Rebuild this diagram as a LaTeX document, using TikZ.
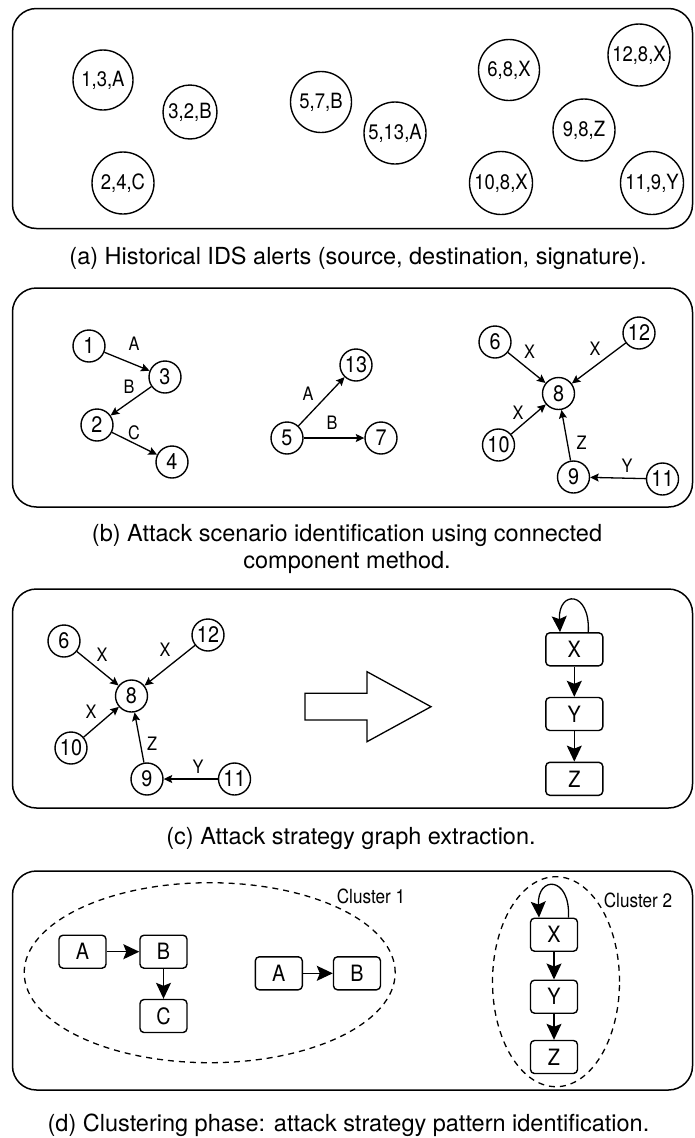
\documentclass[tikz,border=0pt]{standalone}
\usepackage{fontspec}
\setmainfont{TeX Gyre Heros}
\newfontfamily\narrowfont[FakeStretch=0.88]{TeX Gyre Heros}
\usetikzlibrary{arrows.meta,shapes.geometric}

\begin{document}
\begin{tikzpicture}[x=1pt,y=-1pt,
  panel/.style={draw, line width=1.5pt, rounded corners=24pt},
  caption/.style={font=\fontsize{23.5}{27}\selectfont, align=center, inner sep=0pt},
  alert/.style={draw, circle, line width=1.4pt, inner sep=0pt, minimum size=#1,
                font=\narrowfont\fontsize{21}{22}\selectfont},
  alert/.default=61pt,
  host/.style={draw, circle, line width=1.4pt, inner sep=0pt, minimum size=32pt,
               font=\narrowfont\fontsize{22.5}{23}\selectfont},
  edge/.style={line width=1.3pt, -{Stealth[length=8.5pt,width=8pt,inset=1.5pt]}},
  elabel/.style={font=\narrowfont\fontsize{18.5}{19}\selectfont, inner sep=0pt},
  sigbox/.style={draw, rounded corners=4pt, line width=1.4pt, minimum height=33pt,
                 minimum width=#1, inner sep=0pt, font=\narrowfont\fontsize{22.5}{23}\selectfont},
  sigbox/.default=47pt,
  flow/.style={line width=1.3pt, -{Stealth[length=16pt,width=15pt,inset=3pt]}},
  cluster/.style={draw, ellipse, line width=1.3pt, dash pattern=on 6pt off 5pt, inner sep=0pt},
  clabel/.style={font=\narrowfont\fontsize{19.5}{20}\selectfont, inner sep=0pt},
  bigarrow/.style={draw, line width=1.3pt, fill=white}
]
\useasboundingbox (0,0) rectangle (694,1138);

% ---------- (a) raw alerts ----------
\draw[panel] (12.5,8.5) rectangle (692.5,228.5);
\node[alert=60pt] (a1)  at (103,80)    {1,3,A};
\node[alert=54pt] (a2)  at (190,112)   {3,2,B};
\node[alert=62pt] (a3)  at (123,183)   {2,4,C};
\node[alert]      (a4)  at (321,102)   {5,7,B};
\node[alert=62pt] (a5)  at (395,133)   {5,13,A};
\node[alert]      (a6)  at (509,70)    {6,8,X};
\node[alert=62pt] (a7)  at (639,55)    {12,8,X};
\node[alert=62pt] (a8)  at (584,130)   {9,8,Z};
\node[alert=63pt] (a9)  at (501,183)   {10,8,X};
\node[alert=63pt] (a10) at (652,183)   {11,9,Y};
\node[caption] (capa) at (358,258) {(a) Historical IDS alerts (source, destination, signature).};

% ---------- (b) connected components ----------
\draw[panel] (12.5,288) rectangle (692.5,507);
\node[host] (b1)  at (89,346)    {1};
\node[host] (b3)  at (165,377)   {3};
\node[host] (b2)  at (97,425)    {2};
\node[host] (b4)  at (172,462)   {4};
\node[host] (b5)  at (287,438)   {5};
\node[host] (b13) at (356,365)   {13};
\node[host] (b7)  at (381,438)   {7};
\node[host] (b6)  at (495,342)   {6};
\node[host] (b12) at (639,333)   {12};
\node[host] (b8)  at (558.5,393.5) {8};
\node[host] (b10) at (498.5,445) {10};
\node[host] (b9)  at (573.5,477) {9};
\node[host] (b11) at (662.5,479) {11};
\draw[edge] (b1) -- (b3);
\draw[edge] (b3) -- (b2);
\draw[edge] (b2) -- (b4);
\draw[edge] (b5) -- (b13);
\draw[edge] (b5) -- (b7);
\draw[edge] (b6) -- (b8);
\draw[edge] (b12) -- (b8);
\draw[edge] (b10) -- (b8);
\draw[edge] (b9) -- (b8);
\draw[edge] (b11) -- (b9);
\node[elabel] (lb1)  at (134,344)   {A};
\node[elabel] (lb2)  at (129,387)   {B};
\node[elabel] (lb3)  at (134,433)   {C};
\node[elabel] (lb4)  at (308,394)   {A};
\node[elabel] (lb5)  at (332,423)   {B};
\node[elabel] (lb6)  at (529.5,351.5) {X};
\node[elabel] (lb7)  at (595,349)   {X};
\node[elabel] (lb8)  at (518,413)   {X};
\node[elabel] (lb9)  at (581.5,443) {Z};
\node[elabel] (lb10) at (627,465.5) {Y};
\node[caption] (capb) at (347,548.5) {(b) Attack scenario identification using connected\\component method.};

% ---------- (c) strategy graph extraction ----------
\draw[panel] (12.5,589) rectangle (692.5,808);
\node[host] (c6)  at (64,641)    {6};
\node[host] (c12) at (208,635)   {12};
\node[host] (c8)  at (131.5,696) {8};
\node[host] (c10) at (71,748)    {10};
\node[host] (c9)  at (147,779)   {9};
\node[host] (c11) at (234.5,779) {11};
\draw[edge] (c6) -- (c8);
\draw[edge] (c12) -- (c8);
\draw[edge] (c10) -- (c8);
\draw[edge] (c9) -- (c8);
\draw[edge] (c11) -- (c9);
\node[elabel] (lc1) at (102,655)   {X};
\node[elabel] (lc2) at (165,650)   {X};
\node[elabel] (lc3) at (91,712)    {X};
\node[elabel] (lc4) at (152,744)   {Z};
\node[elabel] (lc5) at (198,767)   {Y};
% hollow transformation arrow
\draw[bigarrow] (305,693.3) -- (367,693.3) -- (367,671.7) -- (431,706.7)
  -- (367,741.7) -- (367,720) -- (305,720) -- cycle;
\node[sigbox=57pt] (cx) at (574.3,649.3) {X};
\node[sigbox=57pt] (cy) at (574.3,714)   {Y};
\node[sigbox=57pt] (cz) at (574.3,778.8) {Z};
\draw[flow] ([xshift=14pt]cx.north) .. controls +(2,-42) and +(-2,-42) .. ([xshift=-14.3pt]cx.north);
\draw[flow] (cx) -- (cy);
\draw[flow] (cy) -- (cz);
\node[caption] (capc) at (351,838) {(c) Attack strategy graph extraction.};

% ---------- (d) clustering ----------
\draw[panel] (12.5,871) rectangle (692.5,1090);
\node[cluster, minimum width=371pt, minimum height=180pt] (cl1) at (209.7,972.7) {};
\node[cluster, minimum width=127pt, minimum height=210pt] (cl2) at (556,981.7) {};
\node[clabel] (cl1t) at (371,896) {Cluster 1};
\node[clabel] (cl2t) at (638,900) {Cluster 2};
\node[sigbox] (da1) at (82.5,951.7)  {A};
\node[sigbox] (db1) at (163.5,951.7) {B};
\node[sigbox] (dc)  at (163.5,1016)  {C};
\node[sigbox] (da2) at (278.8,973.3) {A};
\node[sigbox] (db2) at (357,973.3)   {B};
\node[sigbox] (dx)  at (554,934.7)   {X};
\node[sigbox] (dy)  at (554,996.7)   {Y};
\node[sigbox] (dz)  at (554,1057)    {Z};
\draw[flow] (da1) -- (db1);
\draw[flow] (db1) -- (dc);
\draw[flow] (da2) -- (db2);
\draw[flow] ([xshift=14.5pt]dx.north) .. controls +(2,-42) and +(-2,-42) .. ([xshift=-15pt]dx.north);
\draw[flow] (dx) -- (dy);
\draw[flow] (dy) -- (dz);
\node[caption] (capd) at (348.5,1125) {(d) Clustering phase: attack strategy pattern identification.};
\end{tikzpicture}
\end{document}
